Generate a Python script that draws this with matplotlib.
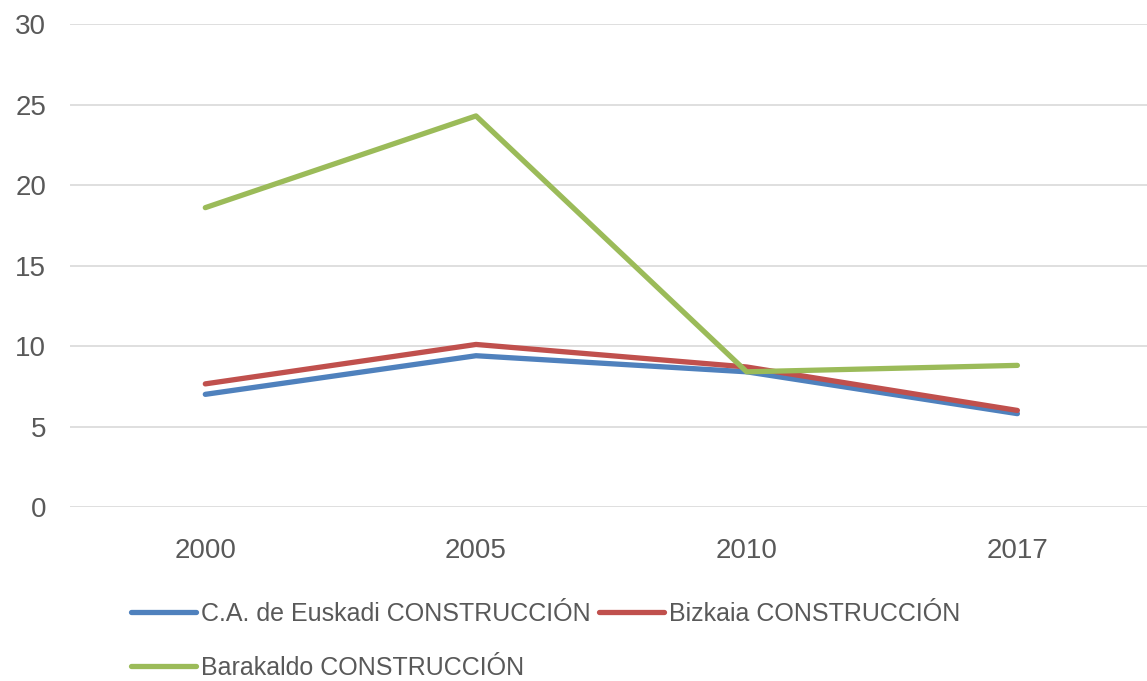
import matplotlib.pyplot as plt

years = ["2000", "2005", "2010", "2017"]
euskadi = [7.0, 9.4, 8.4, 5.8]
bizkaia = [7.65, 10.1, 8.7, 6.0]
barakaldo = [18.6, 24.3, 8.4, 8.8]

plt.rcParams['font.family'] = ['Liberation Sans', 'DejaVu Sans']

fig = plt.figure(figsize=(11.47, 6.81), dpi=100)
ax = fig.add_axes([0.061, 0.2555, 0.944, 0.709])

x = range(len(years))
l1, = ax.plot(x, euskadi, color='#4F81BD', lw=3.8, solid_capstyle='round', label='C.A. de Euskadi CONSTRUCCIÓN')
l2, = ax.plot(x, bizkaia, color='#C0504D', lw=3.8, solid_capstyle='round', label='Bizkaia CONSTRUCCIÓN')
l3, = ax.plot(x, barakaldo, color='#9BBB59', lw=3.8, solid_capstyle='round', label='Barakaldo CONSTRUCCIÓN')

ax.set_xlim(-0.5, 3.5)
ax.set_ylim(0, 30)
ax.set_yticks(range(0, 31, 5))
ax.set_xticks(list(x))
ax.set_xticklabels(years)
ax.grid(axis='y', color='#D9D9D9', lw=1.2)
ax.set_axisbelow(True)
for s in ax.spines.values():
    s.set_visible(False)
ax.tick_params(length=0, labelsize=20, colors='#595959', pad=17)
ax.tick_params(axis='x', pad=22)

fig.legend([l1, l3, l2], [l1.get_label(), l3.get_label(), l2.get_label()],
           ncol=2, loc='upper left', bbox_to_anchor=(0.103, 0.135), frameon=False,
           fontsize=18, labelcolor='#595959', handlelength=2.6, handletextpad=0.2,
           columnspacing=0.35, labelspacing=1.2, borderpad=0)

fig.savefig('out.png', dpi=100)
